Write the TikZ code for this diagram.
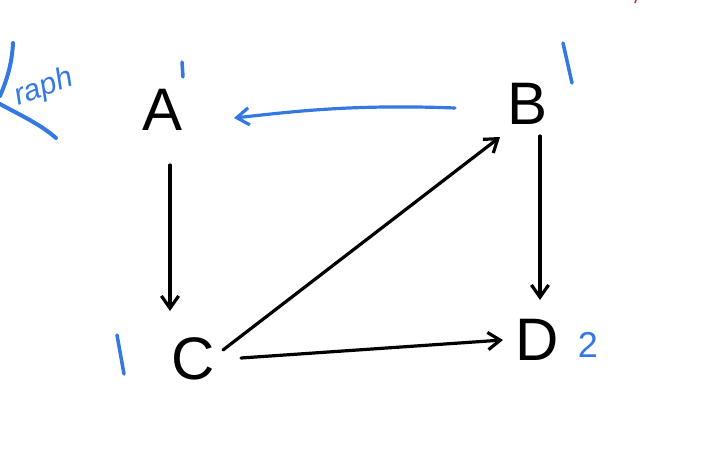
\documentclass[tikz,border=0pt]{standalone}
\usepackage{fontspec}
\setmainfont{Liberation Sans}
\usetikzlibrary{arrows.meta}
\definecolor{inkblue}{RGB}{52,120,228}
\definecolor{inkred}{RGB}{230,30,30}
\begin{document}
\begin{tikzpicture}[x=1pt,y=-1pt,
  vertex/.style={font=\fontsize{60}{60}\selectfont, inner sep=0pt, text=black},
  weight/.style={font=\fontsize{36}{36}\selectfont, inner sep=0pt, text=inkblue},
  edge/.style={line width=3.2pt, line cap=round, -{Straight Barb[angle=70:15pt, line width=3.2pt]}},
  stroke/.style={line width=3.5pt, line cap=round}]
\useasboundingbox (0,0) rectangle (703,465);
\fill[white] (0,0) rectangle (703,465);

% vertices
\node[vertex] (A) at (163,110) {A};
\node[vertex] (B) at (528,104) {B};
\node[vertex] (C) at (193,359) {C};
\node[vertex] (D) at (537,340) {D};

% weights beside the vertices
\coordinate (a1) at (182,62);
\coordinate (a2) at (183,77);
\draw[stroke, inkblue] (a1) -- (a2);
\coordinate (b1) at (563,43);
\coordinate (b2) at (572,83);
\draw[stroke, inkblue] (b1) -- (b2);
\coordinate (c1) at (117,335);
\coordinate (c2) at (124,374);
\draw[stroke, inkblue] (c1) -- (c2);
\node[weight] (d2) at (588,345) {2};

% edges
\coordinate (ba0) at (455,108);
\coordinate (ba1) at (234,118);
\draw[edge, draw=inkblue] (ba0) .. controls (350,104) and (290,112) .. (ba1);
\draw[edge] (170,165) -- (170,311);
\draw[edge] (540,136) -- (540,300);
\draw[edge] (223,350) -- (500,137);
\draw[edge] (241,358) -- (503,340);

% title fragment
\coordinate (g0) at (13,43);
\coordinate (g1) at (0,96);
\draw[stroke, inkblue, line width=4pt] (g0) .. controls (12,65) and (6,82) .. (g1);
\coordinate (g2) at (0,104);
\coordinate (g3) at (56,138);
\draw[stroke, inkblue, line width=4pt] (g2) .. controls (20,115) and (40,124) .. (g3);
\node[font=\itshape\fontsize{30}{30}\selectfont, text=inkblue, rotate=20, inner sep=0pt] (gt) at (44,88) {raph};

% stray mark
\coordinate (r0) at (636,0);
\coordinate (r1) at (635,3);
\draw[line width=1.5pt, inkred] (r0) -- (r1);
\end{tikzpicture}
\end{document}
